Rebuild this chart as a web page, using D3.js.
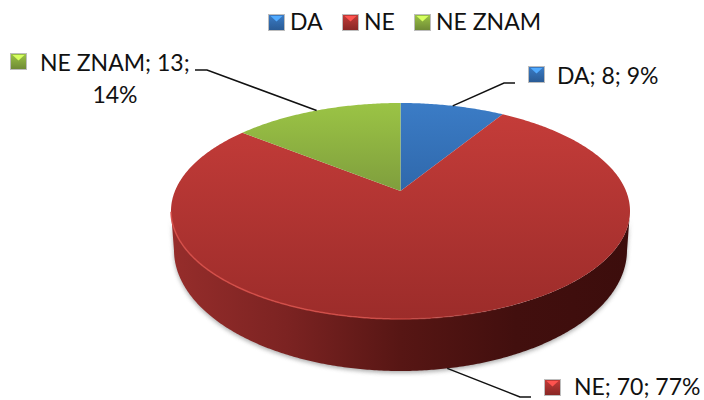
<!DOCTYPE html>
<html>
<head>
<meta charset="utf-8">
<script src="https://cdn.jsdelivr.net/npm/d3@7"></script>
<style>
    html, body { margin: 0; background: #fff; }
    text { font-family: Lato, "Open Sans", sans-serif; fill: #111; }
</style>
</head>
<body>
<svg id="chart" width="704" height="400"></svg>
<script>
const categories = ["DA", "NE", "NE ZNAM"];
const values = [8, 70, 13];
const colors = ["#3b7cc6", "#c43c39", "#9bc445"];
const darkColors = ["#2f68ab", "#9c2c2a", "#7f9e3d"];

const width = 704;
const height = 400;
const tilt = -0.185; // moves the pie centre up, the way the perspective does

// top face and the smaller bottom rim of the cylinder
const topRim = { cx: 400.5, cy: 211, rx: 229.5, ry: 108 };
const bottomRim = { cx: 400.5, cy: 250, rx: 226.5, ry: 121 };

const svg = d3.select("#chart");
const defs = svg.append("defs");

// circle position -> picture position
const project = (angle, rim) => {
    const u = Math.sin(angle), v = -Math.cos(angle);
    const w = 1 + tilt * v;
    return [
        rim.cx + rim.rx * u * Math.sqrt(1 - tilt * tilt) / w,
        rim.cy + rim.ry * (v + tilt) / w
    ];
};

const line = d3.line();
const total = d3.sum(values);
const pie = d3.pie().sort(null).value(d => d.value);
const arcs = pie(categories.map((c, i) => ({ category: c, value: values[i], i })));

const grad = (id, x2, y2, stops) => {
    const g = defs.append("linearGradient").attr("id", id)
        .attr("x1", 0).attr("y1", 0).attr("x2", x2).attr("y2", y2);
    stops.forEach(s => g.append("stop")
        .attr("offset", s[0])
        .attr("stop-color", s[1])
        .attr("stop-opacity", s[2] === undefined ? 1 : s[2]));
};

categories.forEach((c, i) => {
    grad("top" + i, 0, 1, [[0, colors[i]], [1, darkColors[i]]]);
    grad("mark" + i, 0, 1, [[0, colors[i]], [1, d3.color(darkColors[i]).darker(0.4)]]);
});
grad("wall", 1, 0, [[0, "#962d2b"], [0.25, "#7c2322"], [0.5, "#571614"], [0.75, "#420f0e"], [1, "#3c0d0c"]]);
grad("edge", 1, 0, [[0, "#d84f49", 0.9], [0.45, "#d84f49", 0.8], [0.75, "#d84f49", 0], [1, "#d84f49", 0]]);

const blur = defs.append("filter").attr("id", "soft")
    .attr("x", "-5%").attr("y", "-5%").attr("width", "110%").attr("height", "110%");
blur.append("feGaussianBlur").attr("stdDeviation", 2);

// lower half of a rim, left to right
const lowerHalf = rim => d3.range(0, 721)
    .map(k => project(k * Math.PI / 360, rim))
    .filter(p => p[1] >= rim.cy)
    .sort((a, b) => a[0] - b[0]);

const topLower = lowerHalf(topRim);
const bottomLower = lowerHalf(bottomRim);
const wallPoints = topLower.concat(bottomLower.slice().reverse());

svg.append("path")
    .attr("d", line(wallPoints) + "Z")
    .attr("fill", "#777")
    .attr("opacity", 0.6)
    .attr("transform", "translate(0,2)")
    .attr("filter", "url(#soft)");

svg.append("path")
    .attr("d", line(wallPoints) + "Z")
    .attr("fill", "url(#wall)");

// top face, one piece per slice
const centre = [topRim.cx, topRim.cy + topRim.ry * tilt];
svg.append("g")
    .selectAll("path")
    .data(arcs)
    .join("path")
    .attr("d", d => {
        const n = Math.ceil((d.endAngle - d.startAngle) * 90);
        const pts = d3.range(n + 1).map(k => project(d.startAngle + (d.endAngle - d.startAngle) * k / n, topRim));
        return line([centre, ...pts]) + "Z";
    })
    .attr("fill", d => `url(#top${d.data.i})`);

// light edge on the lower rim, fades out to the right
svg.append("path")
    .attr("d", line(topLower))
    .attr("fill", "none")
    .attr("stroke", "url(#edge)")
    .attr("stroke-width", 1.5);

// bevelled square used by legend and labels
const marker = (x, y, i) => {
    const s = 15;
    const g = svg.append("g").attr("transform", `translate(${x},${y})`);
    g.append("rect").attr("x", -0.5).attr("y", -0.5).attr("width", s + 1).attr("height", s + 1)
        .attr("fill", `url(#mark${i})`).attr("stroke", "#bdbdbd").attr("stroke-width", 1);
    g.append("path")
        .attr("d", line([[1.5, 1], [s - 1.5, 1], [s / 2, s / 2.3]]) + "Z")
        .attr("fill", d3.color(colors[i]).brighter(0.9));
};

const fontSize = 23;
const label = (x, y, str, anchor) => svg.append("text")
    .attr("x", x).attr("y", y)
    .attr("font-size", fontSize)
    .attr("text-anchor", anchor || "start")
    .text(str);

// legend
const legendX = [269, 343, 415];
categories.forEach((c, i) => {
    marker(legendX[i], 15, i);
    label(legendX[i] + 21, 30, c);
});

// data labels with leader lines
const pct = v => Math.round(v / total * 100) + "%";
const mid = d => (d.startAngle + d.endAngle) / 2;
const leader = (p, bend, end) => {
    svg.append("path")
        .attr("d", line([p, bend, end]))
        .attr("fill", "none")
        .attr("stroke", "#111")
        .attr("stroke-width", 1.5);
};

leader(project(mid(arcs[0]), topRim), [504, 83], [515, 83]);
marker(529, 67, 0);
label(557, 84, `${categories[0]}; ${values[0]}; ${pct(values[0])}`);

leader(project(mid(arcs[1]), bottomRim), [520, 397], [531, 397]);
marker(545, 380, 1);
label(574, 395, `${categories[1]}; ${values[1]}; ${pct(values[1])}`);

leader(project(mid(arcs[2]), topRim), [207, 70], [195, 70]);
marker(11, 54, 2);
label(40, 71, `${categories[2]}; ${values[2]};`);
label(115, 103, pct(values[2]), "middle");
</script>
</body>
</html>
